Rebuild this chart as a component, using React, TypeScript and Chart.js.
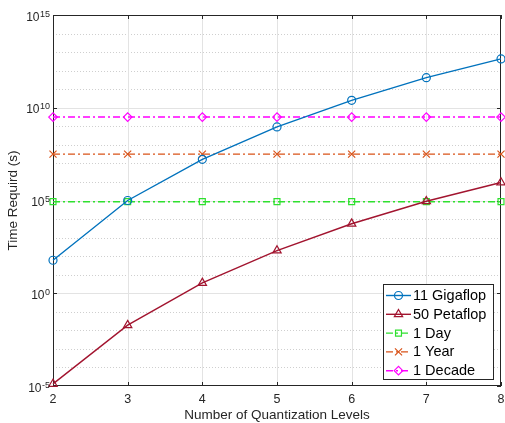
import { useEffect, useRef } from "react";
import { Chart, registerables } from "chart.js";

Chart.register(...registerables);

const levels = [2, 3, 4, 5, 6, 7, 8];
const gigaflop = [60, 1.0e5, 1.66e7, 9.3e8, 2.5e10, 4.2e11, 4.3e12];
const petaflop = [1.3e-5, 1.9e-2, 3.6, 2.0e2, 5.6e3, 9.1e4, 9.3e5];
const oneDay = [86400, 86400, 86400, 86400, 86400, 86400, 86400];
const oneYear = [3.15e7, 3.15e7, 3.15e7, 3.15e7, 3.15e7, 3.15e7, 3.15e7];
const oneDecade = [3.15e9, 3.15e9, 3.15e9, 3.15e9, 3.15e9, 3.15e9, 3.15e9];
const seriesNames = ["11 Gigaflop", "50 Petaflop", "1 Day", "1 Year", "1 Decade"];
const yTickExponents = [-5, 0, 5, 10, 15];
const xTickLabels = ["2", "3", "4", "5", "6", "7", "8"];
const xTitle = "Number of Quantization Levels";
const yTitle = "Time Requird (s)";

const FONT = '"Liberation Sans", Arial, Helvetica, sans-serif';
const TXT = "#262626";

function drawMarker(ctx: CanvasRenderingContext2D, style: string, x: number, y: number, r: number) {
  ctx.beginPath();
  if (style === "circle") {
    ctx.arc(x, y, r, 0, Math.PI * 2);
  } else if (style === "triangle") {
    ctx.moveTo(x, y - r);
    ctx.lineTo(x + Math.sin((2 * Math.PI) / 3) * r, y - Math.cos((2 * Math.PI) / 3) * r);
    ctx.lineTo(x + Math.sin((4 * Math.PI) / 3) * r, y - Math.cos((4 * Math.PI) / 3) * r);
    ctx.closePath();
  } else if (style === "rect") {
    const s = r * Math.SQRT1_2;
    ctx.rect(x - s, y - s, 2 * s, 2 * s);
  } else if (style === "rectRot") {
    ctx.moveTo(x - r, y);
    ctx.lineTo(x, y - r);
    ctx.lineTo(x + r, y);
    ctx.lineTo(x, y + r);
    ctx.closePath();
  } else if (style === "crossRot") {
    const s = r * Math.SQRT1_2;
    ctx.moveTo(x - s, y - s);
    ctx.lineTo(x + s, y + s);
    ctx.moveTo(x + s, y - s);
    ctx.lineTo(x - s, y + s);
  }
  ctx.stroke();
}

const decorPlugin = {
  id: "decor",
  beforeDatasetsDraw(chart: any) {
    const { ctx, chartArea: a, scales } = chart;
    const x = scales.x;
    const y = scales.y;
    ctx.save();
    ctx.lineWidth = 1;
    for (let e = -5; e <= 15; e++) {
      const py = Math.round(y.getPixelForValue(Math.pow(10, e))) + 0.5;
      if (py <= a.top + 1 || py >= a.bottom - 1) continue;
      ctx.beginPath();
      if (e % 5 === 0) {
        ctx.setLineDash([]);
        ctx.strokeStyle = "#e3e3e3";
      } else {
        ctx.setLineDash([1, 2]);
        ctx.strokeStyle = "#cfcfcf";
      }
      ctx.moveTo(a.left, py);
      ctx.lineTo(a.right, py);
      ctx.stroke();
    }
    ctx.setLineDash([]);
    ctx.strokeStyle = "#e3e3e3";
    for (const v of levels) {
      const px = Math.round(x.getPixelForValue(v)) + 0.5;
      if (px <= a.left + 1 || px >= a.right - 1) continue;
      ctx.beginPath();
      ctx.moveTo(px, a.top);
      ctx.lineTo(px, a.bottom);
      ctx.stroke();
    }
    ctx.strokeStyle = TXT;
    ctx.strokeRect(Math.round(a.left) + 0.5, Math.round(a.top) + 0.5, Math.round(a.right - a.left) - 1, Math.round(a.bottom - a.top) - 1);
    const tl = 4;
    ctx.beginPath();
    for (const v of levels) {
      const px = Math.round(x.getPixelForValue(v)) + 0.5;
      ctx.moveTo(px, a.bottom);
      ctx.lineTo(px, a.bottom - tl);
      ctx.moveTo(px, a.top);
      ctx.lineTo(px, a.top + tl);
    }
    for (const e of yTickExponents) {
      const py = Math.round(y.getPixelForValue(Math.pow(10, e))) + 0.5;
      ctx.moveTo(a.left, py);
      ctx.lineTo(a.left + tl, py);
      ctx.moveTo(a.right, py);
      ctx.lineTo(a.right - tl, py);
    }
    ctx.stroke();
    ctx.restore();
  },
  afterDatasetsDraw(chart: any) {
    const { ctx, chartArea: a, scales } = chart;
    const x = scales.x;
    const y = scales.y;
    ctx.save();
    ctx.fillStyle = TXT;
    for (const e of yTickExponents) {
      const py = y.getPixelForValue(Math.pow(10, e));
      const expStr = e < 0 ? "-" + Math.abs(e) : String(e);
      ctx.font = `9px ${FONT}`;
      const ew = ctx.measureText(expStr).width;
      const right = a.left - 3;
      ctx.textAlign = "right";
      ctx.textBaseline = "alphabetic";
      ctx.fillText(expStr, right, py + 1.5);
      ctx.font = `12px ${FONT}`;
      ctx.fillText("10", right - ew - 0.5, py + 5.5);
    }
    ctx.font = `12.5px ${FONT}`;
    ctx.textAlign = "center";
    ctx.textBaseline = "middle";
    levels.forEach((v, i) => {
      ctx.fillText(xTickLabels[i], x.getPixelForValue(v), a.bottom + 14);
    });
    ctx.font = `13.5px ${FONT}`;
    ctx.fillText(xTitle, (a.left + a.right) / 2, a.bottom + 29);
    ctx.save();
    ctx.translate(13.5, (a.top + a.bottom) / 2);
    ctx.rotate(-Math.PI / 2);
    ctx.fillText(yTitle, 0, 0);
    ctx.restore();

    const lx = 383.5, ly = 284.5, lw = 110, lh = 95;
    ctx.fillStyle = "#ffffff";
    ctx.fillRect(lx, ly, lw, lh);
    ctx.strokeStyle = TXT;
    ctx.lineWidth = 1;
    ctx.strokeRect(lx, ly, lw, lh);
    chart.data.datasets.forEach((ds: any, i: number) => {
      const cy = 295.5 + i * 18.8;
      ctx.strokeStyle = ds.borderColor;
      ctx.lineWidth = ds.borderWidth;
      ctx.setLineDash(ds.borderDash || []);
      ctx.beginPath();
      ctx.moveTo(386, cy);
      ctx.lineTo(411, cy);
      ctx.stroke();
      ctx.setLineDash([]);
      ctx.lineWidth = ds.pointBorderWidth;
      drawMarker(ctx, ds.pointStyle, 398.5, cy, ds.pointRadius);
      ctx.fillStyle = "#000000";
      ctx.font = `14.5px ${FONT}`;
      ctx.textAlign = "left";
      ctx.textBaseline = "middle";
      ctx.fillText(seriesNames[i], 413, cy + 0.5);
    });
    ctx.restore();
  },
};

export default function App() {
  const ref = useRef<HTMLCanvasElement | null>(null);
  useEffect(() => {
    document.body.style.margin = "0";
    const canvas = ref.current;
    if (!canvas) return;
    const mk = (vals: number[]) => levels.map((v, i) => ({ x: v, y: vals[i] }));
    const dashDot = [7, 3, 2, 3];
    const common = {
      tension: 0,
      borderWidth: 1.4,
      pointBorderWidth: 1.2,
      pointBackgroundColor: "rgba(0,0,0,0)",
      backgroundColor: "rgba(0,0,0,0)",
      clip: false as const,
      fill: false,
    };
    const chart = new Chart(canvas, {
      type: "line",
      data: {
        datasets: [
          { ...common, label: seriesNames[0], data: mk(gigaflop), borderColor: "#0072BD", pointBorderColor: "#0072BD", pointStyle: "circle", pointRadius: 4 },
          { ...common, label: seriesNames[1], data: mk(petaflop), borderColor: "#A2142F", pointBorderColor: "#A2142F", pointStyle: "triangle", pointRadius: 4.8 },
          { ...common, label: seriesNames[2], data: mk(oneDay), borderColor: "#2ee02e", pointBorderColor: "#2ee02e", pointStyle: "rect", pointRadius: 4.2, borderDash: dashDot },
          { ...common, label: seriesNames[3], data: mk(oneYear), borderColor: "#D95319", pointBorderColor: "#D95319", pointStyle: "crossRot", pointRadius: 5, borderDash: dashDot },
          { ...common, label: seriesNames[4], data: mk(oneDecade), borderColor: "#FF00FF", pointBorderColor: "#FF00FF", pointStyle: "rectRot", pointRadius: 4.3, borderDash: dashDot },
        ] as any,
      },
      options: {
        responsive: false,
        animation: false,
        devicePixelRatio: 1,
        events: [],
        layout: { autoPadding: false, padding: { left: 53, right: 4, top: 15, bottom: 37 } },
        plugins: { legend: { display: false }, tooltip: { enabled: false } },
        scales: {
          x: { type: "linear", min: 2, max: 8, display: false },
          y: { type: "logarithmic", min: 1e-5, max: 1e15, display: false },
        },
      } as any,
      plugins: [decorPlugin],
    });
    return () => chart.destroy();
  }, []);
  return (
    <div style={{ width: 505, height: 423, background: "#fff" }}>
      <canvas ref={ref} width={505} height={423} style={{ display: "block" }} />
    </div>
  );
}
